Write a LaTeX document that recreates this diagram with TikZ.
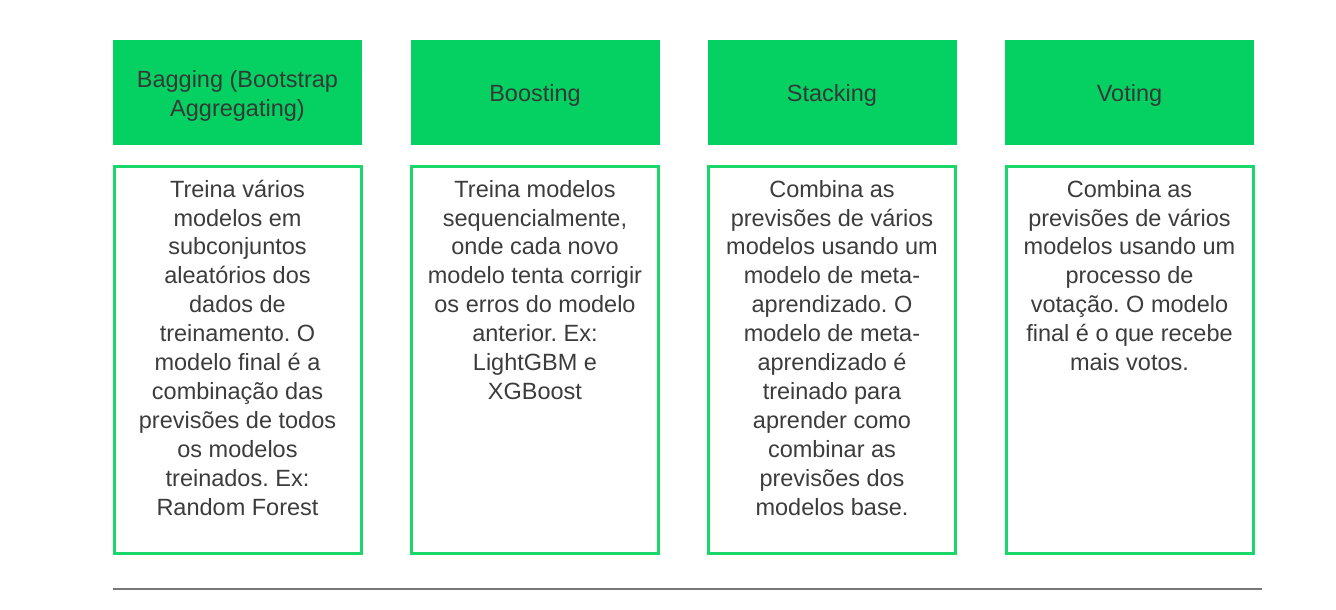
\documentclass[tikz,border=0pt]{standalone}
\usepackage{fontspec}
\setmainfont{Liberation Sans}
\frenchspacing
\definecolor{hdrgreen}{HTML}{05D163}
\definecolor{bordergreen}{HTML}{1BD76A}
\definecolor{txtgray}{HTML}{3C3C3C}
\definecolor{hdrtxt}{HTML}{323A35}
\definecolor{rulegray}{HTML}{777777}
\tikzset{
  hdrbox/.style={fill=hdrgreen, draw=none, minimum width=249pt, minimum height=105pt, inner sep=0pt},
  bodybox/.style={draw=bordergreen, line width=3pt, fill=white, minimum width=247pt, minimum height=387pt, inner sep=0pt},
  hdrtext/.style={text=hdrtxt, align=center, inner sep=0pt, font=\fontsize{23.5}{29}\selectfont},
  bodytext/.style={text=txtgray, align=center, inner sep=0pt, anchor=north, font=\fontsize{23.5}{28.9}\selectfont},
}
\newcommand{\firstline}{\rule{0pt}{22pt}}
\begin{document}
\begin{tikzpicture}[x=1pt,y=1pt]
\useasboundingbox (0,0) rectangle (1336,610);
% headers
\node[hdrbox] (h1) at (237.5,517.5) {};
\node[hdrbox] (h2) at (535,517.5) {};
\node[hdrbox] (h3) at (832,517.5) {};
\node[hdrbox] (h4) at (1129.5,517.5) {};
\node[hdrtext] (ht1) at ([yshift=-3pt]h1.center) {Bagging (Bootstrap\\Aggregating)};
\node[hdrtext] (ht2) at ([yshift=-3pt]h2.center) {Boosting};
\node[hdrtext] (ht3) at ([yshift=-3pt]h3.center) {Stacking};
\node[hdrtext] (ht4) at ([yshift=-3pt]h4.center) {Voting};
% bodies
\node[bodybox] (b1) at (237.5,249.5) {};
\node[bodybox] (b2) at (535,249.5) {};
\node[bodybox] (b3) at (832,249.5) {};
\node[bodybox] (b4) at (1129.5,249.5) {};
\node[bodytext] (bt1) at (237.5,435) {\firstline Treina vários\\modelos em\\subconjuntos\\aleatórios dos\\dados de\\treinamento. O\\modelo final é a\\combinação das\\previsões de todos\\os modelos\\treinados. Ex:\\Random Forest};
\node[bodytext] (bt2) at (535,435) {\firstline Treina modelos\\sequencialmente,\\onde cada novo\\modelo tenta corrigir\\os erros do modelo\\anterior. Ex:\\LightGBM e\\XGBoost};
\node[bodytext] (bt3) at (832,435) {\firstline Combina as\\previsões de vários\\modelos usando um\\modelo de meta-\\aprendizado. O\\modelo de meta-\\aprendizado é\\treinado para\\aprender como\\combinar as\\previsões dos\\modelos base.};
\node[bodytext] (bt4) at (1129.5,435) {\firstline Combina as\\previsões de vários\\modelos usando um\\processo de\\votação. O modelo\\final é o que recebe\\mais votos.};
% bottom rule
\coordinate (r1) at (113,21);
\coordinate (r2) at (1262,21);
\draw[rulegray, line width=2pt] (r1) -- (r2);
\end{tikzpicture}
\end{document}
